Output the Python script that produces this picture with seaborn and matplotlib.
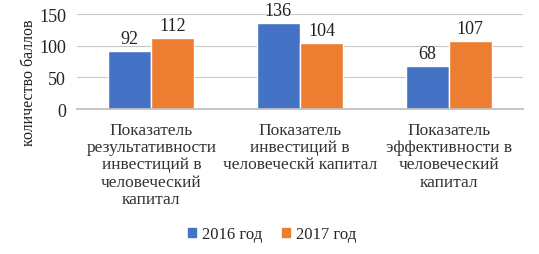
import matplotlib
matplotlib.use("Agg")
import matplotlib.pyplot as plt
import seaborn as sns
import pandas as pd

categories = [
    "Показатель\nрезультативности\nинвестиций в\nчеловеческий\nкапитал",
    "Показатель\nинвестиций в\nчеловеческй капитал",
    "Показатель\nэффективности в\nчеловеческий\nкапитал",
]
series_names = ["2016 год", "2017 год"]
values_2016 = [92, 136, 68]
values_2017 = [112, 104, 107]
yticks = [0, 50, 100, 150]

sns.set_theme(style="white")
plt.rcParams["font.family"] = ["Liberation Serif", "DejaVu Serif"]

df = pd.DataFrame({
    "cat": categories * 2,
    "year": [series_names[0]] * 3 + [series_names[1]] * 3,
    "val": values_2016 + values_2017,
})

fig = plt.figure(figsize=(5.39, 2.55), dpi=100)
ax = fig.add_axes([0.1429, 0.5686, 0.8274, 0.3725])
colors = ["#4472C4", "#ED7D31"]
sns.barplot(data=df, x="cat", y="val", hue="year", palette=colors, width=0.58,
            ax=ax, saturation=1, legend=False)

for cont in ax.containers:
    ax.bar_label(cont, fontsize=13, padding=3, color="#222222")

ax.set_ylim(0, 150)
ax.set_xlim(-0.5, 2.5)
ax.set_yticks(yticks)
ax.set_yticklabels([str(t) for t in yticks], fontsize=13, color="#222222")
ax.yaxis.grid(True, color="#C8C8C8", linewidth=0.8)
ax.set_axisbelow(True)
for s in ["left", "right", "top"]:
    ax.spines[s].set_visible(False)
ax.spines["bottom"].set_color("#BFBFBF")
ax.tick_params(axis="y", length=0, pad=8)
ax.tick_params(axis="x", which="major", length=0, pad=9)
ax.set_xticks([-0.5, 0.5, 1.5, 2.5], minor=True)
ax.tick_params(axis="x", which="minor", length=5, color="#BFBFBF", width=0.8)
ax.set_xticklabels(categories, fontsize=12.5, linespacing=1.12, color="#333333")
ax.set_xlabel("")
ax.set_ylabel("количество баллов", fontsize=11.5, color="#222222")
ax.yaxis.set_label_coords(-0.09, 0.29)

from matplotlib.patches import Patch
handles = [Patch(color=c) for c in colors]
fig.legend(handles, series_names, loc="center", bbox_to_anchor=(0.505, 0.078), ncol=2,
           frameon=False, fontsize=12, handlelength=0.45, handleheight=0.45,
           handletextpad=0.35, columnspacing=1.2)

fig.savefig("out.png", dpi=100)
